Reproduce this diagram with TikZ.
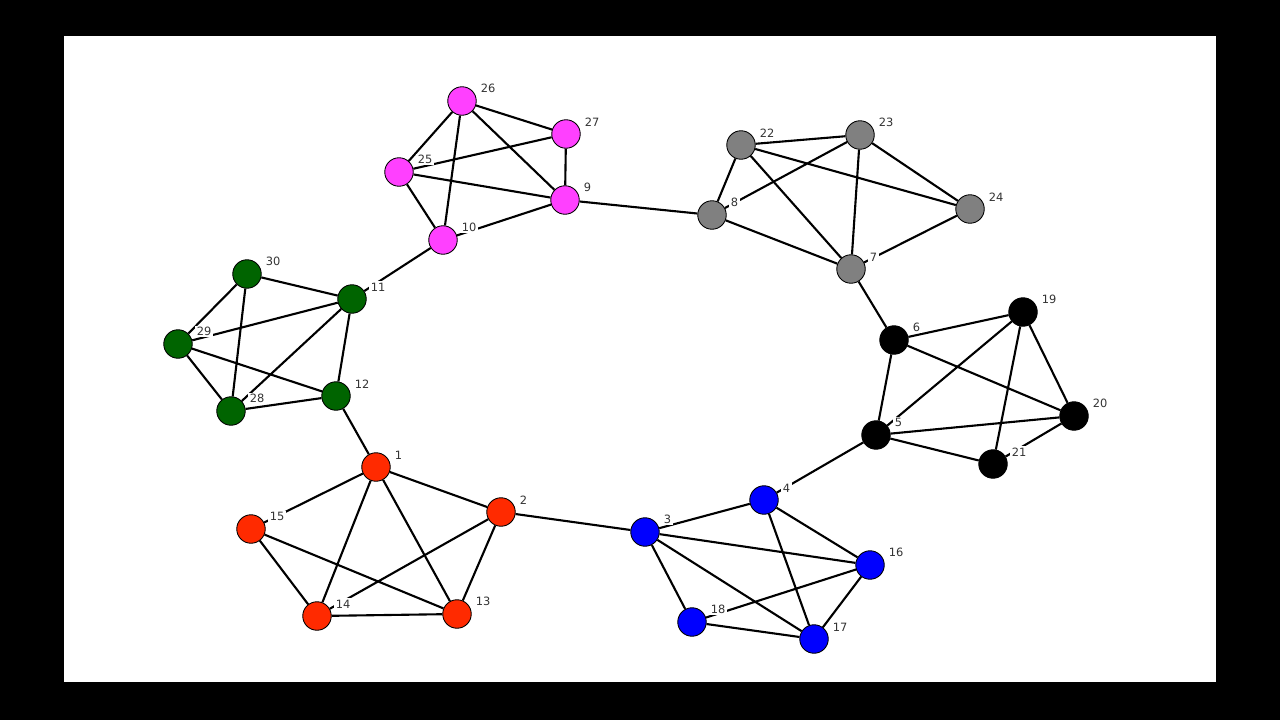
\documentclass[tikz,border=0pt]{standalone}
\usepackage{fontspec}
\setsansfont{DejaVu Sans}
\usetikzlibrary{backgrounds}
\definecolor{nodered}{HTML}{FF2A00}
\definecolor{nodegreen}{HTML}{006400}
\definecolor{nodeblue}{HTML}{0000FF}
\definecolor{nodepink}{HTML}{FF40FF}
\definecolor{nodegray}{HTML}{808080}
\definecolor{labelink}{HTML}{333333}
\tikzset{
vertex/.style={circle,draw=black,line width=.5pt,minimum size=.57cm,inner sep=0pt},
red vertex/.style={vertex,fill=nodered},
green vertex/.style={vertex,fill=nodegreen},
blue vertex/.style={vertex,fill=nodeblue},
pink vertex/.style={vertex,fill=nodepink},
gray vertex/.style={vertex,fill=nodegray},
black vertex/.style={vertex,fill=black},
vlabel/.style={font=\sffamily\fontsize{6.5}{7}\selectfont,text=labelink,fill=white,inner sep=.8pt,label distance=2pt},
link/.style={line width=1.2pt,draw=black}}

\begin{document}
\begin{tikzpicture}[x=0.02cm,y=-0.02cm]
\useasboundingbox (0,0) rectangle (1280,720);
\node[red vertex,label={[vlabel]20:1}] (n1) at (376,467) {};
\node[red vertex,label={[vlabel]20:2}] (n2) at (501,512) {};
\node[blue vertex,label={[vlabel]20:3}] (n3) at (645,532) {};
\node[blue vertex,label={[vlabel]20:4}] (n4) at (764,500) {};
\node[black vertex,label={[vlabel]20:5}] (n5) at (876,435) {};
\node[black vertex,label={[vlabel]20:6}] (n6) at (894,340) {};
\node[gray vertex,label={[vlabel]20:7}] (n7) at (851,269) {};
\node[gray vertex,label={[vlabel]20:8}] (n8) at (712,215) {};
\node[pink vertex,label={[vlabel]20:9}] (n9) at (565,200) {};
\node[pink vertex,label={[vlabel]20:10}] (n10) at (443,240) {};
\node[green vertex,label={[vlabel]20:11}] (n11) at (352,299) {};
\node[green vertex,label={[vlabel]20:12}] (n12) at (336,396) {};
\node[red vertex,label={[vlabel]20:13}] (n13) at (457,614) {};
\node[red vertex,label={[vlabel]20:14}] (n14) at (317,616) {};
\node[red vertex,label={[vlabel]20:15}] (n15) at (251,529) {};
\node[blue vertex,label={[vlabel]20:16}] (n16) at (870,565) {};
\node[blue vertex,label={[vlabel]20:17}] (n17) at (814,639) {};
\node[blue vertex,label={[vlabel]20:18}] (n18) at (692,622) {};
\node[black vertex,label={[vlabel]20:19}] (n19) at (1023,312) {};
\node[black vertex,label={[vlabel]20:20}] (n20) at (1074,416) {};
\node[black vertex,label={[vlabel]20:21}] (n21) at (993,464) {};
\node[gray vertex,label={[vlabel]20:22}] (n22) at (741,145) {};
\node[gray vertex,label={[vlabel]20:23}] (n23) at (860,135) {};
\node[gray vertex,label={[vlabel]20:24}] (n24) at (970,209) {};
\node[pink vertex,label={[vlabel]20:25}] (n25) at (399,172) {};
\node[pink vertex,label={[vlabel]20:26}] (n26) at (462,101) {};
\node[pink vertex,label={[vlabel]20:27}] (n27) at (566,134) {};
\node[green vertex,label={[vlabel]20:28}] (n28) at (231,411) {};
\node[green vertex,label={[vlabel]20:29}] (n29) at (178,344) {};
\node[green vertex,label={[vlabel]20:30}] (n30) at (247,274) {};
\begin{scope}[on background layer]
\fill[black] (0,0) rectangle (1280,720);
\fill[white] (64,36) rectangle (1216,682);
\draw[link] (n1)--(n15) (n1)--(n14) (n1)--(n13) (n1)--(n2) (n15)--(n14) (n15)--(n13) (n14)--(n13) (n14)--(n2) (n2)--(n13);
\draw[link] (n3)--(n4) (n3)--(n16) (n3)--(n17) (n3)--(n18) (n4)--(n16) (n4)--(n17) (n16)--(n18) (n16)--(n17) (n18)--(n17);
\draw[link] (n6)--(n19) (n6)--(n20) (n6)--(n5) (n19)--(n5) (n19)--(n21) (n19)--(n20) (n5)--(n20) (n5)--(n21) (n21)--(n20);
\draw[link] (n22)--(n23) (n22)--(n24) (n22)--(n8) (n22)--(n7) (n23)--(n8) (n23)--(n7) (n23)--(n24) (n8)--(n7) (n7)--(n24);
\draw[link] (n26)--(n25) (n26)--(n27) (n26)--(n10) (n26)--(n9) (n25)--(n27) (n25)--(n9) (n25)--(n10) (n10)--(n9) (n27)--(n9);
\draw[link] (n30)--(n29) (n30)--(n11) (n30)--(n28) (n29)--(n11) (n29)--(n12) (n29)--(n28) (n28)--(n11) (n28)--(n12) (n11)--(n12);
\draw[link] (n1)--(n12) (n2)--(n3) (n4)--(n5) (n6)--(n7) (n8)--(n9) (n10)--(n11);
\end{scope}
\end{tikzpicture}
\end{document}
